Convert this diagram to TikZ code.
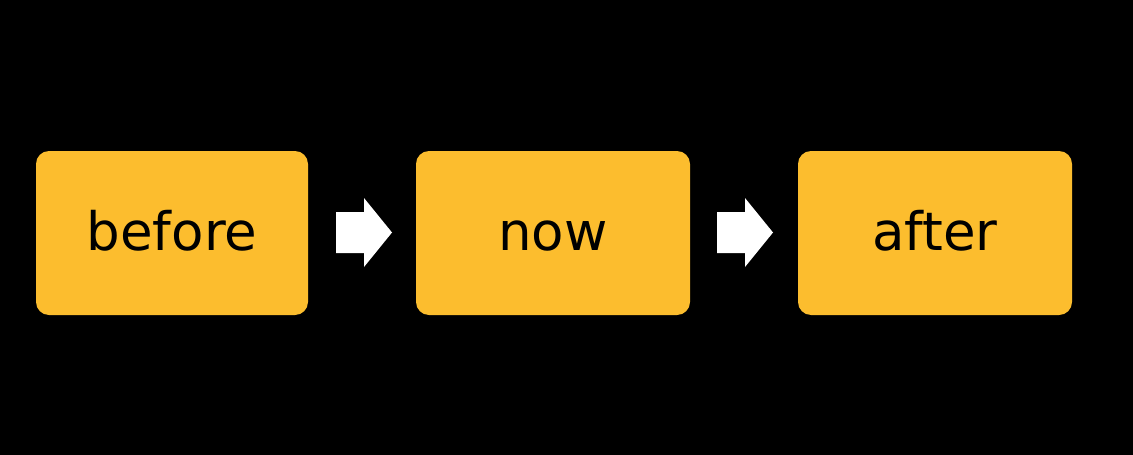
\documentclass[tikz,border=0pt]{standalone}
\usepackage{fontspec}
\setmainfont{DejaVu Sans}
\definecolor{boxyellow}{HTML}{FCBD2E}
\tikzset{
  stagebox/.style={fill=boxyellow, rounded corners=13pt, minimum width=272pt, minimum height=164pt, inner sep=0pt, text height=43pt, text depth=8pt, font=\fontsize{53}{62}\selectfont, text=black},
  bigarrow/.style={fill=white, draw=none}
}
\begin{document}
\begin{tikzpicture}[x=1pt,y=-1pt]
\fill[black] (0,0) rectangle (1133,455);
\useasboundingbox (0,0) rectangle (1133,455);
\node[stagebox] (before) at (172,233) {before};
\node[stagebox, minimum width=274pt] (now) at (553,233) {now};
\node[stagebox, minimum width=274pt] (after) at (935,233) {after};
\fill[bigarrow] (336,212) -- (364,212) -- (364,198) -- (392,232.5) -- (364,267) -- (364,253) -- (336,253) -- cycle;
\fill[bigarrow] (717,212) -- (745,212) -- (745,198) -- (773,232.5) -- (745,267) -- (745,253) -- (717,253) -- cycle;
\end{tikzpicture}
\end{document}
